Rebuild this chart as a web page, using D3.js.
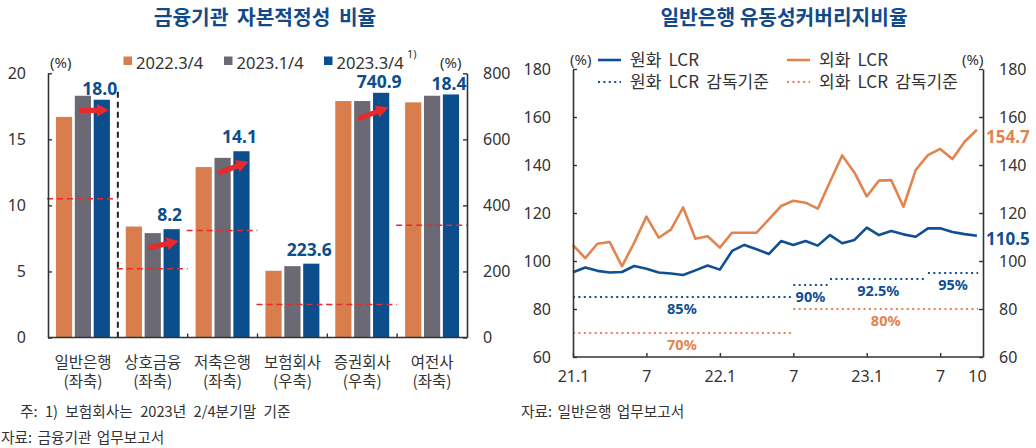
<!DOCTYPE html>
<html><head><meta charset="utf-8">
<script src="https://cdn.jsdelivr.net/npm/d3@7"></script>
<style>
body{margin:0;background:#fff}
svg{display:block}
text{font-family:"Noto Sans","Noto Sans CJK KR",sans-serif;fill:#333}
</style>
</head><body>
<svg id="c" width="1036" height="448"></svg>
<script>
// ---------- Left chart data ----------
const categories = ['일반은행','상호금융','저축은행','보험회사','증권회사','여전사'];
const axisNotes  = ['(좌축)','(좌축)','(좌축)','(우축)','(우축)','(좌축)'];
const axisSide   = ['left','left','left','right','right','left'];
const seriesNames = ['2022.3/4','2023.1/4','2023.3/4'];
const v2022q3 = [16.7, 8.4, 12.9, 202, 716, 17.8];
const v2023q1 = [18.3, 7.9, 13.6, 216, 716, 18.3];
const v2023q3 = [18.0, 8.2, 14.1, 223.6, 740.9, 18.4];
const minRequired = [10.5, 5.2, 8.1, 100, 100, 8.5];
const arrowFrom = [17.2, 6.8, 12.45, null, 662, null];
const arrowTo   = [17.2, 7.3, 13.3, null, 697, null];
const leftTicks  = [0, 5, 10, 15, 20];
const rightTicks = [0, 200, 400, 600, 800];

// ---------- Right chart data ----------
const xTickIdx    = [0, 6, 12, 18, 24, 30, 33];
const xTickLabels = ['21.1', '7', '22.1', '7', '23.1', '7', '10'];
const krwLCR = [95.3, 97.3, 95.9, 95.2, 95.4, 97.9, 96.8, 95.2, 94.8, 94.2, 96.1, 98.1,
                96.4, 104.2, 106.7, 104.9, 102.9, 108.3, 106.7, 108.3, 106.4, 110.8, 107.4, 108.8,
                113.9, 110.8, 112.5, 111.1, 110.1, 113.6, 113.6, 112.1, 111.2, 110.5];
const fxLCR  = [106.6, 101.2, 107.2, 107.9, 97.8, 107.6, 118.5, 109.7, 113.1, 122.3, 109.3, 110.3,
                105.6, 111.8, 111.8, 111.8, 117.3, 122.9, 125.1, 124.3, 121.8, 133.0, 144.0, 136.8,
                126.9, 133.5, 133.7, 122.6, 137.9, 144.1, 146.7, 142.5, 149.7, 154.7];
const krwReqValues = [85, 90, 92.5, 95];
const krwReqStart  = [0, 18, 21, 29];
const krwReqEnd    = [17.8, 20.8, 28.9, 33.1];
const krwReqLabels = ['85%', '90%', '92.5%', '95%'];
const fxReqValues  = [70, 80];
const fxReqStart   = [0, 18];
const fxReqEnd     = [17.8, 33.1];
const fxReqLabels  = ['70%', '80%'];
const yTicksR = [60, 80, 100, 120, 140, 160, 180];

// ---------- Colors ----------
const cOrange = '#d97d4c', cGrey = '#6b6a74', cBlue = '#0c4d8d', cRed = '#e62a2d';
const cLineBlue = '#0f4f93', cLineOrange = '#e3834f';
const titleColor = '#114a8b';

const svg = d3.select('#c');
svg.append('rect').attr('width',1036).attr('height',448).attr('fill','#fff');

// ---------- Titles ----------
svg.append('text').attr('x',265).attr('y',25).attr('text-anchor','middle')
  .style('font-size','20.3px').style('font-weight','bold').style('fill',titleColor)
  .style('word-spacing','4px')
  .style('font-family','"Noto Sans CJK KR"').text('금융기관 자본적정성 비율');
svg.append('text').attr('x',784).attr('y',25).attr('text-anchor','middle')
  .style('font-size','20.3px').style('font-weight','bold').style('fill',titleColor)
  .style('font-family','"Noto Sans CJK KR"').text('일반은행 유동성커버리지비율');

// ================= LEFT CHART =================
const gL = svg.append('g');
const yL = d3.scaleLinear().domain([0,20]).range([337.5,73.3]);
const yR = d3.scaleLinear().domain([0,800]).range([337.5,73.3]);
const xC = d3.scaleBand().domain(categories).range([48,467]);
const xS = d3.scaleBand().domain(seriesNames).range([0,xC.bandwidth()]).paddingInner(0.142).paddingOuter(0.42);
const seriesVals = [v2022q3, v2023q1, v2023q3];
const seriesCols = [cOrange, cGrey, cBlue];
const scaleOf = i => axisSide[i] === 'left' ? yL : yR;

// bars
seriesNames.forEach((s, si) => {
  gL.append('g').selectAll('rect').data(categories).join('rect')
    .attr('x', c => xC(c) + xS(s))
    .attr('width', xS.bandwidth())
    .attr('y', (c, i) => scaleOf(i)(seriesVals[si][i]))
    .attr('height', (c, i) => scaleOf(i)(0) - scaleOf(i)(seriesVals[si][i]))
    .attr('fill', seriesCols[si]);
});

// minimum requirement red dashed lines
gL.append('g').selectAll('line').data(categories).join('line')
  .attr('x1', c => xC(c) - 1).attr('x2', c => xC(c) + xC.bandwidth())
  .attr('y1', (c, i) => scaleOf(i)(minRequired[i])).attr('y2', (c, i) => scaleOf(i)(minRequired[i]))
  .attr('stroke', cRed).attr('stroke-width', 1.6).attr('stroke-dasharray', '6,4');

// black dashed separator after 일반은행
gL.append('line').attr('x1', xC(categories[1])).attr('x2', xC(categories[1]))
  .attr('y1', yL(18.6)).attr('y2', yL(0))
  .attr('stroke', '#222').attr('stroke-width', 2).attr('stroke-dasharray', '6,4');

// arrows
function arrow(g, x1, y1, x2, y2) {
  const a = Math.atan2(y2 - y1, x2 - x1);
  const hl = 12, hw = 6.5, sw = 2.6;
  const bx = x2 - hl * Math.cos(a), by = y2 - hl * Math.sin(a);
  const px = -Math.sin(a), py = Math.cos(a);
  const pts = [
    [x1 + px * sw, y1 + py * sw], [bx + px * sw, by + py * sw], [bx + px * hw, by + py * hw],
    [x2, y2],
    [bx - px * hw, by - py * hw], [bx - px * sw, by - py * sw], [x1 - px * sw, y1 - py * sw]
  ];
  g.append('path').attr('d', 'M' + pts.map(p => p.join(',')).join('L') + 'Z').attr('fill', cRed);
}
categories.forEach((c, i) => {
  if (arrowFrom[i] == null) return;
  const sc = scaleOf(i);
  const x1 = xC(c) + xS(seriesNames[1]) + 4;
  const x2 = xC(c) + xS(seriesNames[2]) + xS.bandwidth() - 1;
  arrow(gL, x1, sc(arrowFrom[i]), x2, sc(arrowTo[i]));
});

// value labels
gL.append('g').selectAll('text').data(categories).join('text')
  .attr('x', c => xC(c) + xS(seriesNames[2]) + xS.bandwidth() / 2 - 2)
  .attr('y', (c, i) => scaleOf(i)(v2023q3[i]) - (scaleOf(i)(v2023q3[i]) < 120 ? 4.5 : 8))
  .attr('text-anchor', 'middle')
  .style('font-size', '17.5px').style('font-weight', 'bold').style('fill', cBlue)
  .text((c, i) => v2023q3[i].toFixed(1));

// axes
const axL = gL.append('g').attr('transform', 'translate(48,0)')
  .call(d3.axisLeft(yL).tickValues(leftTicks).tickSize(-4).tickSizeOuter(0).tickPadding(22));
const axR = gL.append('g').attr('transform', 'translate(467,0)')
  .call(d3.axisRight(yR).tickValues(rightTicks).tickSize(-4).tickSizeOuter(0).tickPadding(16));
[axL, axR].forEach(a => {
  a.select('.domain').attr('stroke', '#333').attr('stroke-width', 1.6);
  a.selectAll('.tick line').attr('stroke', '#333').attr('stroke-width', 1.4);
  a.selectAll('.tick text').style('font-size', '16px').style('fill', '#333');
});
const axB = gL.append('g').attr('transform', 'translate(0,337.5)');
axB.append('line').attr('x1', 48).attr('x2', 467).attr('stroke', '#333').attr('stroke-width', 1.6);
axB.selectAll('line.t').data(categories.slice(1)).join('line').attr('class', 't')
  .attr('x1', c => xC(c)).attr('x2', c => xC(c)).attr('y1', 0).attr('y2', -4)
  .attr('stroke', '#333').attr('stroke-width', 1.4);

// category labels
const catLbl = gL.append('g').selectAll('text').data(categories).join('text')
  .attr('text-anchor', 'middle').style('font-size', '15.5px').style('font-family', '"Noto Sans CJK KR"');
catLbl.append('tspan').attr('x', c => xC(c) + xC.bandwidth() / 2).attr('y', 368).text(c => c);
catLbl.append('tspan').attr('x', c => xC(c) + xC.bandwidth() / 2).attr('y', 387).text((c, i) => axisNotes[i]);

// unit labels
gL.append('text').attr('x', 50).attr('y', 68).style('font-size', '15px').text('(%)');
gL.append('text').attr('x', 440).attr('y', 68).style('font-size', '15px').text('(%)');

// legend
const legX = [123.5, 224, 324];
seriesNames.forEach((s, si) => {
  gL.append('rect').attr('x', legX[si]).attr('y', 56.5).attr('width', 8.5).attr('height', 8.5).attr('fill', seriesCols[si]);
  gL.append('text').attr('x', legX[si] + 12.5).attr('y', 68.5).style('font-size', '16.5px').text(s);
});
gL.append('text').attr('x', 407).attr('y', 58).style('font-size', '11px').text('1)');

// notes
svg.append('text').attr('x', 20).attr('y', 417).style('font-size', '14.7px').style('word-spacing', '4px')
  .style('font-family', '"Noto Sans CJK KR"')
  .text('주: 1) 보험회사는 2023년 2/4분기말 기준');
svg.append('text').attr('x', 1).attr('y', 443).style('font-size', '14.7px').style('word-spacing', '2px')
  .style('font-family', '"Noto Sans CJK KR"')
  .text('자료: 금융기관 업무보고서');

// ================= RIGHT CHART =================
const gR = svg.append('g');
const xM = d3.scaleLinear().domain([0, 33.5]).range([573, 983]);
const yM = d3.scaleLinear().domain([60, 180]).range([357, 69]);
const idx = d3.range(krwLCR.length);

// requirement dotted lines
function reqLines(vals, st, en, lbls, col) {
  vals.forEach((v, k) => {
    gR.append('line').attr('x1', xM(st[k])).attr('x2', xM(en[k]))
      .attr('y1', yM(v)).attr('y2', yM(v))
      .attr('stroke', col).attr('stroke-width', 2.2).attr('stroke-dasharray', '2,3.4');
    gR.append('text').attr('x', xM((st[k] + en[k]) / 2)).attr('y', yM(v) + 17)
      .attr('text-anchor', 'middle').style('font-size', '14.5px').style('font-weight', 'bold').style('fill', col)
      .text(lbls[k]);
  });
}
reqLines(krwReqValues, krwReqStart, krwReqEnd, krwReqLabels, cLineBlue);
reqLines(fxReqValues, fxReqStart, fxReqEnd, fxReqLabels, cLineOrange);

const line = arr => d3.line().x(i => xM(i)).y(i => yM(arr[i]))(idx);
gR.append('path').attr('d', line(fxLCR)).attr('fill', 'none').attr('stroke', cLineOrange).attr('stroke-width', 2.6).attr('stroke-linejoin', 'round');
gR.append('path').attr('d', line(krwLCR)).attr('fill', 'none').attr('stroke', cLineBlue).attr('stroke-width', 2.6).attr('stroke-linejoin', 'round');

// end labels
gR.append('text').attr('x', 986).attr('y', yM(fxLCR[fxLCR.length - 1]) + 13.5)
  .style('font-size', '17px').style('font-weight', 'bold').style('fill', cLineOrange)
  .text(fxLCR[fxLCR.length - 1].toFixed(1));
gR.append('text').attr('x', 986).attr('y', yM(krwLCR[krwLCR.length - 1]) + 9)
  .style('font-size', '17px').style('font-weight', 'bold').style('fill', cLineBlue)
  .text(krwLCR[krwLCR.length - 1].toFixed(1));

// axes
const rL = gR.append('g').attr('transform', 'translate(573,0)')
  .call(d3.axisLeft(yM).tickValues(yTicksR).tickSize(-4).tickSizeOuter(0).tickPadding(22));
const rR = gR.append('g').attr('transform', 'translate(983,0)')
  .call(d3.axisRight(yM).tickValues(yTicksR).tickSize(-4).tickSizeOuter(0).tickPadding(16));
const rB = gR.append('g').attr('transform', 'translate(0,357)')
  .call(d3.axisBottom(xM).tickValues(xTickIdx).tickFormat((d, i) => xTickLabels[i]).tickSize(-4).tickSizeOuter(0).tickPadding(14));
rB.selectAll('.tick').filter(d => d === 33).select('line').remove();
[rL, rR, rB].forEach(a => {
  a.select('.domain').attr('stroke', '#333').attr('stroke-width', 1.6);
  a.selectAll('.tick line').attr('stroke', '#333').attr('stroke-width', 1.4);
  a.selectAll('.tick text').style('font-size', '16px').style('fill', '#333');
});
rB.select('.domain').attr('d', 'M573,0H983');

// legend
gR.append('text').attr('x', 570).attr('y', 64.5).style('font-size', '15px').text('(%)');
gR.append('text').attr('x', 962).attr('y', 64.5).style('font-size', '15px').text('(%)');
const legR = [
  {x: 598, y: 60, col: cLineBlue, dash: null, t: '원화 LCR'},
  {x: 598, y: 82, col: cLineBlue, dash: '2,3.4', t: '원화 LCR 감독기준'},
  {x: 787, y: 60, col: cLineOrange, dash: null, t: '외화 LCR'},
  {x: 787, y: 82, col: cLineOrange, dash: '2,3.4', t: '외화 LCR 감독기준'}
];
legR.forEach(l => {
  gR.append('line').attr('x1', l.x).attr('x2', l.x + 23).attr('y1', l.y).attr('y2', l.y)
    .attr('stroke', l.col).attr('stroke-width', l.dash ? 2.2 : 2.6).attr('stroke-dasharray', l.dash);
  gR.append('text').attr('x', l.x + 32).attr('y', l.y + 6).style('font-size', '17px')
    .style('word-spacing', '3.5px')
    .style('font-family', '"Noto Sans CJK KR"').text(l.t);
});

svg.append('text').attr('x', 521).attr('y', 417).style('font-size', '14.7px').style('word-spacing', '2px')
  .style('font-family', '"Noto Sans CJK KR"')
  .text('자료: 일반은행 업무보고서');
</script>
</body></html>
